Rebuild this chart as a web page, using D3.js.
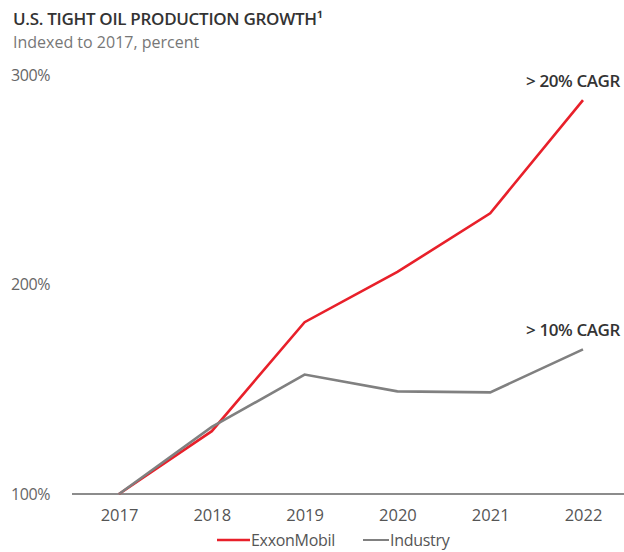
<!DOCTYPE html>
<html>
<head>
<meta charset="utf-8">
<script src="https://cdn.jsdelivr.net/npm/d3@7"></script>
<style>
  body { margin: 0; background: #fff; }
  svg { font-family: "Open Sans", "Noto Sans", sans-serif; }
</style>
</head>
<body>
<div id="chart"></div>
<script>
const years = ['2017', '2018', '2019', '2020', '2021', '2022'];
const exxonValues = [100, 130, 182, 206, 234, 288];
const industryValues = [100, 132, 157, 149, 148.5, 169];
const yTicks = [100, 200, 300];
const seriesNames = ['ExxonMobil', 'Industry'];
const cagrLabels = ['> 20% CAGR', '> 10% CAGR'];

const width = 624, height = 552;
const red = '#e8202a', grey = '#808080';

const svg = d3.select('#chart').append('svg')
    .attr('width', width)
    .attr('height', height);

// title
svg.append('text')
    .attr('x', 13).attr('y', 25)
    .attr('fill', '#333')
    .attr('font-size', 17)
    .attr('font-weight', 600)
    .attr('letter-spacing', -0.3)
    .text('U.S. TIGHT OIL PRODUCTION GROWTH\u00B9');
svg.append('text')
    .attr('x', 13).attr('y', 48)
    .attr('fill', '#777')
    .attr('font-size', 16)
    .text('Indexed to 2017, percent');

const x = d3.scalePoint()
    .domain(years)
    .range([119, 583]);

const y = d3.scaleLinear()
    .domain([100, 300])
    .range([494, 75]);

// y labels
svg.selectAll('.ylab')
    .data(yTicks)
    .enter()
    .append('text')
    .attr('class', 'ylab')
    .attr('x', 11)
    .attr('y', d => y(d))
    .attr('dy', '0.35em')
    .attr('fill', '#666')
    .attr('font-size', 16)
    .attr('letter-spacing', -0.4)
    .text(d => d + '%');

// baseline axis
const xAxis = d3.axisBottom(x).tickSize(0).tickPadding(15);
const gx = svg.append('g')
    .attr('transform', 'translate(0,' + y(100) + ')')
    .call(xAxis);
gx.select('.domain').remove();
gx.append('line')
    .attr('x1', 72).attr('x2', width)
    .attr('stroke', '#666')
    .attr('stroke-width', 1.5);
gx.selectAll('text')
    .attr('fill', '#555')
    .attr('font-size', 16.5)
    .attr('font-family', '"Open Sans", "Noto Sans", sans-serif');

const line = d3.line()
    .x((d, i) => x(years[i]))
    .y(d => y(d));

svg.append('path')
    .datum(exxonValues)
    .attr('d', line)
    .attr('fill', 'none')
    .attr('stroke', red)
    .attr('stroke-width', 2.6);

svg.append('path')
    .datum(industryValues)
    .attr('d', line)
    .attr('fill', 'none')
    .attr('stroke', grey)
    .attr('stroke-width', 2.6);

// CAGR notes, anchored at end of each line
const ends = [exxonValues[exxonValues.length - 1], industryValues[industryValues.length - 1]];
svg.selectAll('.cagr')
    .data(cagrLabels)
    .enter()
    .append('text')
    .attr('class', 'cagr')
    .attr('x', 620)
    .attr('y', (d, i) => y(ends[i]) - 13)
    .attr('text-anchor', 'end')
    .attr('fill', '#333')
    .attr('font-size', 17)
    .attr('font-weight', 600)
    .attr('letter-spacing', -0.4)
    .text(d => d);

// legend
const legend = svg.append('g').attr('transform', 'translate(217,540)');
const legX = [0, 146];
const legColors = [red, grey];
seriesNames.forEach((name, i) => {
    legend.append('line')
        .attr('x1', legX[i]).attr('x2', legX[i] + (i == 0 ? 33 : 26))
        .attr('stroke', legColors[i])
        .attr('stroke-width', i == 0 ? 2.6 : 2);
    legend.append('text')
        .attr('x', legX[i] + (i == 0 ? 34 : 27))
        .attr('dy', '0.35em')
        .attr('fill', '#555')
        .attr('font-size', 16)
        .attr('letter-spacing', -0.3)
        .text(name);
});
</script>
</body>
</html>
